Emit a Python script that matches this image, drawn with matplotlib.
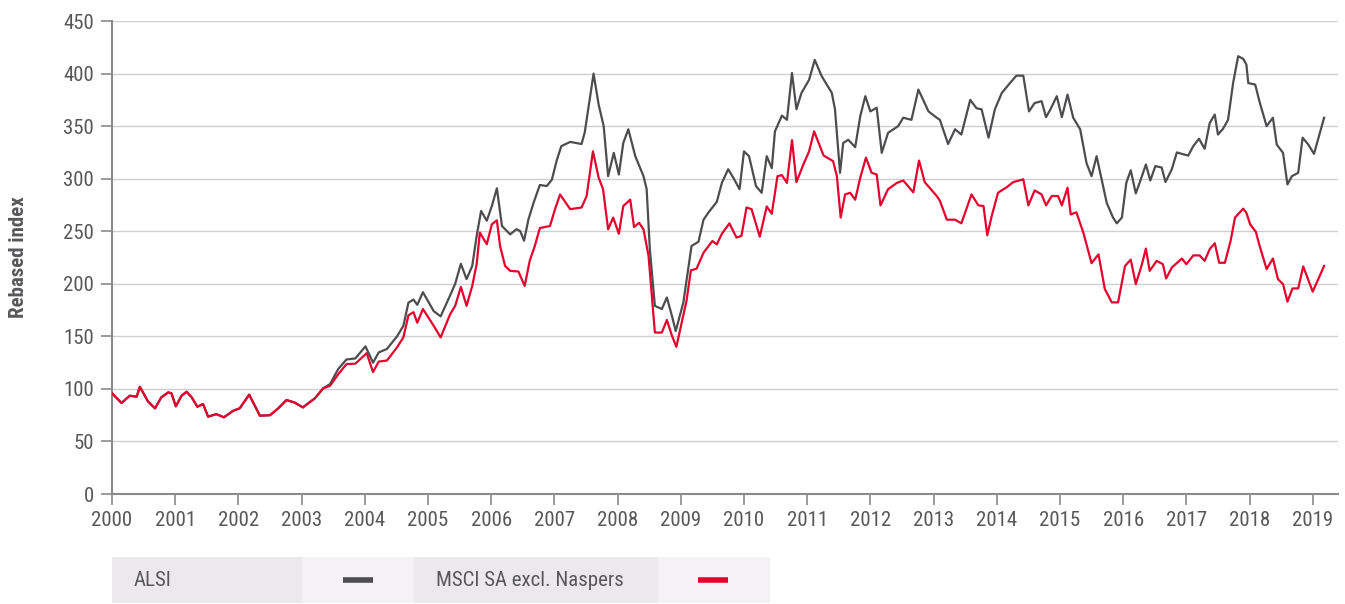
import matplotlib
matplotlib.use("Agg")
import matplotlib.pyplot as plt
from matplotlib.patches import Rectangle
from matplotlib.lines import Line2D

plt.rcParams['font.family'] = ['Roboto Condensed', 'Roboto', 'DejaVu Sans']

# ALSI (rebased), decimal year -> index level
alsi_t = [2000.00, 2000.15, 2000.28, 2000.39, 2000.44, 2000.57, 2000.68, 2000.78, 2000.89, 2000.94,
          2001.01, 2001.10, 2001.18, 2001.26, 2001.35, 2001.44, 2001.52, 2001.65, 2001.77, 2001.92,
          2002.02, 2002.17, 2002.26, 2002.34, 2002.50, 2002.63, 2002.76, 2002.89, 2003.02, 2003.11,
          2003.21, 2003.34, 2003.45, 2003.58, 2003.71, 2003.85, 2004.01, 2004.13, 2004.22, 2004.35,
          2004.51, 2004.61, 2004.69, 2004.77, 2004.83, 2004.92, 2005.09, 2005.20, 2005.35, 2005.43,
          2005.52, 2005.61, 2005.70, 2005.77, 2005.84, 2005.93, 2006.01, 2006.09, 2006.17, 2006.30,
          2006.40, 2006.46, 2006.52, 2006.59, 2006.67, 2006.77, 2006.88, 2006.96, 2007.04, 2007.11,
          2007.25, 2007.43, 2007.48, 2007.62, 2007.70, 2007.78, 2007.85, 2007.94, 2008.02, 2008.09,
          2008.17, 2008.28, 2008.41, 2008.46, 2008.51, 2008.59, 2008.70, 2008.78, 2008.86, 2008.92,
          2009.04, 2009.17, 2009.28, 2009.36, 2009.44, 2009.57, 2009.65, 2009.75, 2009.83, 2009.93,
          2010.00, 2010.08, 2010.19, 2010.28, 2010.36, 2010.44, 2010.49, 2010.60, 2010.68, 2010.76,
          2010.83, 2010.91, 2011.03, 2011.12, 2011.23, 2011.39, 2011.44, 2011.52, 2011.57, 2011.65,
          2011.76, 2011.84, 2011.92, 2012.00, 2012.10, 2012.18, 2012.28, 2012.44, 2012.52, 2012.65,
          2012.76, 2012.92, 2013.05, 2013.10, 2013.23, 2013.34, 2013.44, 2013.58, 2013.68, 2013.76,
          2013.87, 2013.97, 2014.08, 2014.21, 2014.31, 2014.42, 2014.51, 2014.60, 2014.71, 2014.78,
          2014.85, 2014.95, 2015.03, 2015.12, 2015.21, 2015.32, 2015.42, 2015.50, 2015.58, 2015.66,
          2015.74, 2015.84, 2015.90, 2015.98, 2016.05, 2016.12, 2016.20, 2016.28, 2016.36, 2016.43,
          2016.51, 2016.61, 2016.67, 2016.77, 2016.85, 2016.93, 2017.03, 2017.11, 2017.20, 2017.29,
          2017.37, 2017.45, 2017.50, 2017.58, 2017.66, 2017.74, 2017.82, 2017.90, 2017.95, 2017.98,
          2018.09, 2018.16, 2018.27, 2018.37, 2018.43, 2018.53, 2018.60, 2018.67, 2018.77, 2018.84,
          2018.93, 2019.02, 2019.18]
alsi_v = [95.8, 86.6, 93.5, 92.6, 102, 88, 81.5, 92, 96.7, 95.8,
          83.4, 93.5, 97.3, 92, 83, 85.6, 73.6, 76, 73, 79.3,
          81.5, 94.5, 84, 74.5, 75, 81.5, 89.4, 87, 82.4, 86.6,
          91, 100.5, 104.6, 119, 128, 129, 140.5, 125, 134.7, 138,
          150, 160, 182, 185, 180, 192, 174, 169, 189, 200,
          219, 204.5, 217, 245.6, 269.3, 260, 274, 290.8, 255, 247,
          252, 250, 241, 261.4, 277, 294, 293, 299, 318, 331,
          335, 333, 344, 400, 370.5, 350, 302.4, 324.6, 304, 334,
          347, 321.4, 302.4, 290, 233, 179, 176, 187, 169.4, 155,
          182, 236, 240, 261, 268, 278, 296, 309, 301, 290,
          326, 321.4, 293, 286.6, 321.4, 310, 345, 360, 356, 400.6,
          366, 381.6, 394, 413, 397.5, 381.6, 366, 305.6, 334, 337,
          330, 359.5, 378.5, 364, 367.5, 324.6, 343.6, 350, 358, 356,
          384.8, 364, 358, 356, 333, 347, 342, 375, 367, 366,
          339, 366, 381.6, 391, 398, 398, 364, 372, 373.7, 358.5,
          366, 378.5, 358.5, 380, 358, 347, 315, 302.4, 321.4, 299.4,
          277, 263, 257.5, 263, 296, 308, 286, 299.4, 313.5, 298.3,
          312, 310.6, 296.8, 309, 325, 323.6, 322, 331, 338, 328.4,
          353, 361, 342, 347.4, 356, 391, 416.5, 414, 408.6, 391,
          389.5, 372.8, 350, 358, 332.5, 324.6, 294.5, 302.4, 305.6, 339,
          332.5, 323.6, 358]

# MSCI SA excl. Naspers (rebased)
msci_t = [2000.00, 2000.15, 2000.28, 2000.39, 2000.44, 2000.57, 2000.68, 2000.78, 2000.89, 2000.94,
          2001.01, 2001.10, 2001.18, 2001.26, 2001.35, 2001.44, 2001.52, 2001.65, 2001.77, 2001.92,
          2002.02, 2002.17, 2002.26, 2002.34, 2002.50, 2002.63, 2002.76, 2002.89, 2003.02, 2003.11,
          2003.21, 2003.34, 2003.45, 2003.58, 2003.71, 2003.85, 2004.03, 2004.13, 2004.22, 2004.35,
          2004.51, 2004.61, 2004.69, 2004.77, 2004.83, 2004.92, 2005.09, 2005.20, 2005.35, 2005.43,
          2005.52, 2005.61, 2005.70, 2005.77, 2005.82, 2005.93, 2006.01, 2006.09, 2006.14, 2006.22,
          2006.30, 2006.43, 2006.53, 2006.61, 2006.69, 2006.77, 2006.93, 2007.01, 2007.09, 2007.25,
          2007.43, 2007.51, 2007.61, 2007.70, 2007.77, 2007.85, 2007.93, 2008.02, 2008.09, 2008.20,
          2008.26, 2008.34, 2008.41, 2008.49, 2008.59, 2008.70, 2008.78, 2008.86, 2008.93, 2009.09,
          2009.16, 2009.25, 2009.36, 2009.50, 2009.57, 2009.65, 2009.77, 2009.88, 2009.96, 2010.04,
          2010.12, 2010.25, 2010.36, 2010.44, 2010.53, 2010.60, 2010.68, 2010.76, 2010.83, 2010.94,
          2011.03, 2011.11, 2011.26, 2011.41, 2011.47, 2011.53, 2011.60, 2011.68, 2011.76, 2011.84,
          2011.93, 2012.02, 2012.10, 2012.16, 2012.28, 2012.42, 2012.52, 2012.68, 2012.77, 2012.86,
          2013.05, 2013.10, 2013.21, 2013.34, 2013.44, 2013.60, 2013.71, 2013.79, 2013.85, 2013.92,
          2014.02, 2014.16, 2014.26, 2014.42, 2014.50, 2014.60, 2014.71, 2014.78, 2014.87, 2014.97,
          2015.03, 2015.12, 2015.17, 2015.26, 2015.37, 2015.50, 2015.61, 2015.71, 2015.82, 2015.92,
          2016.03, 2016.12, 2016.20, 2016.29, 2016.36, 2016.42, 2016.53, 2016.63, 2016.68, 2016.77,
          2016.93, 2017.00, 2017.11, 2017.21, 2017.29, 2017.37, 2017.45, 2017.52, 2017.61, 2017.70,
          2017.77, 2017.90, 2017.95, 2018.01, 2018.10, 2018.16, 2018.27, 2018.37, 2018.45, 2018.53,
          2018.60, 2018.68, 2018.77, 2018.85, 2019.00, 2019.18]
msci_v = [95.8, 86.6, 93.5, 92.6, 102, 88, 81.5, 92, 96.7, 95.8,
          83.4, 93.5, 97.3, 92, 83, 85.6, 73.6, 76, 73, 79.3,
          81.5, 94.5, 84, 74.5, 75, 81.5, 89.4, 87, 82.4, 86.6,
          91, 100.5, 103, 114, 123.6, 124, 134, 116, 126, 127,
          139.5, 149, 170, 173, 163, 176, 160, 149, 171, 179,
          197, 179, 198, 218.7, 248.7, 237.6, 256.6, 260.4, 236, 217,
          212.3, 211.7, 198, 222, 236, 253, 255, 271, 285, 271,
          272.6, 283.5, 326, 301, 290, 251.8, 263, 247.6, 274, 280,
          254, 258, 251.8, 226.5, 153.6, 153.6, 165.6, 150.6, 140, 183.6,
          212.8, 214.4, 229.6, 240.7, 237.5, 247.6, 257.5, 244, 245.6, 272.6,
          271, 244.8, 273.6, 266.6, 302.4, 303.4, 296, 336.6, 296.7, 313.5,
          326, 345, 322, 316.7, 302.4, 263, 285, 286.6, 280, 301,
          320, 305.6, 304, 274.6, 290, 296, 298.3, 287, 317.3, 296.7,
          283.5, 279, 261, 261, 257.5, 285, 274.6, 274, 246.2, 264.5,
          286.6, 292, 296.7, 299.4, 274.6, 288.8, 285, 274.6, 283.5, 283.5,
          274.6, 291.4, 266, 268, 248.7, 219.6, 228, 195, 182.3, 182.3,
          217, 223, 199.7, 217, 233.5, 212.3, 221.8, 218.6, 205, 215.5,
          224, 218.6, 227, 227, 221.8, 233, 238.6, 220, 220, 240.7,
          263, 271.5, 267.6, 256.6, 249.4, 236, 214, 224, 204.4, 199.7,
          183, 195.6, 195.6, 216.5, 192.5, 217]

years = list(range(2000, 2020))
yticks = list(range(0, 451, 50))

TEXT = '#58585a'
ALSI_COL = '#4d4d50'
MSCI_COL = '#e4032e'

fig = plt.figure(figsize=(13.45, 6.04), dpi=100)
ax = fig.add_axes([0.0833, 0.1821, 0.9115, 0.7831])

ax.plot(alsi_t, alsi_v, color=ALSI_COL, lw=1.6, zorder=3)
ax.plot(msci_t, msci_v, color=MSCI_COL, lw=1.6, zorder=4)

ax.set_xlim(2000, 2019.4)
ax.set_ylim(0, 450)
ax.set_xticks(years)
ax.set_xticklabels([str(y) for y in years])
ax.set_yticks(yticks)
ax.grid(axis='y', color='#cfcfcf', lw=1)
ax.set_axisbelow(True)

for side in ['top', 'right']:
    ax.spines[side].set_visible(False)
for side in ['left', 'bottom']:
    ax.spines[side].set_color('#8a8a8c')
    ax.spines[side].set_linewidth(1.5)
ax.tick_params(axis='both', colors='#8a8a8c', width=1.2, length=8,
               labelcolor=TEXT, labelsize=15)
ax.tick_params(axis='y', pad=5)
ax.tick_params(axis='x', pad=4)
ax.set_ylabel('Rebased index', fontsize=15, fontweight='bold', color=TEXT, labelpad=25)

# legend strip at the bottom
W, H = 1345.0, 604.0
cells = [(112, 302, '#ebe9eb'), (302, 414, '#f4f2f4'), (414, 658, '#ebe9eb'), (658, 770, '#f4f2f4')]
for x0, x1, c in cells:
    fig.add_artist(Rectangle((x0 / W, 1 / H), (x1 - x0) / W, 46 / H,
                             transform=fig.transFigure, color=c, lw=0))
yc = 1 - 580 / H
fig.text(134 / W, yc, 'ALSI', fontsize=15, color=TEXT, va='center', ha='left')
fig.text(436 / W, yc, 'MSCI SA excl. Naspers', fontsize=15, color=TEXT, va='center', ha='left')
fig.add_artist(Line2D([343 / W, 373 / W], [yc, yc], transform=fig.transFigure,
                      color=ALSI_COL, lw=4, solid_capstyle='butt'))
fig.add_artist(Line2D([698 / W, 728 / W], [yc, yc], transform=fig.transFigure,
                      color=MSCI_COL, lw=4, solid_capstyle='butt'))

fig.savefig('out.png', dpi=100)
